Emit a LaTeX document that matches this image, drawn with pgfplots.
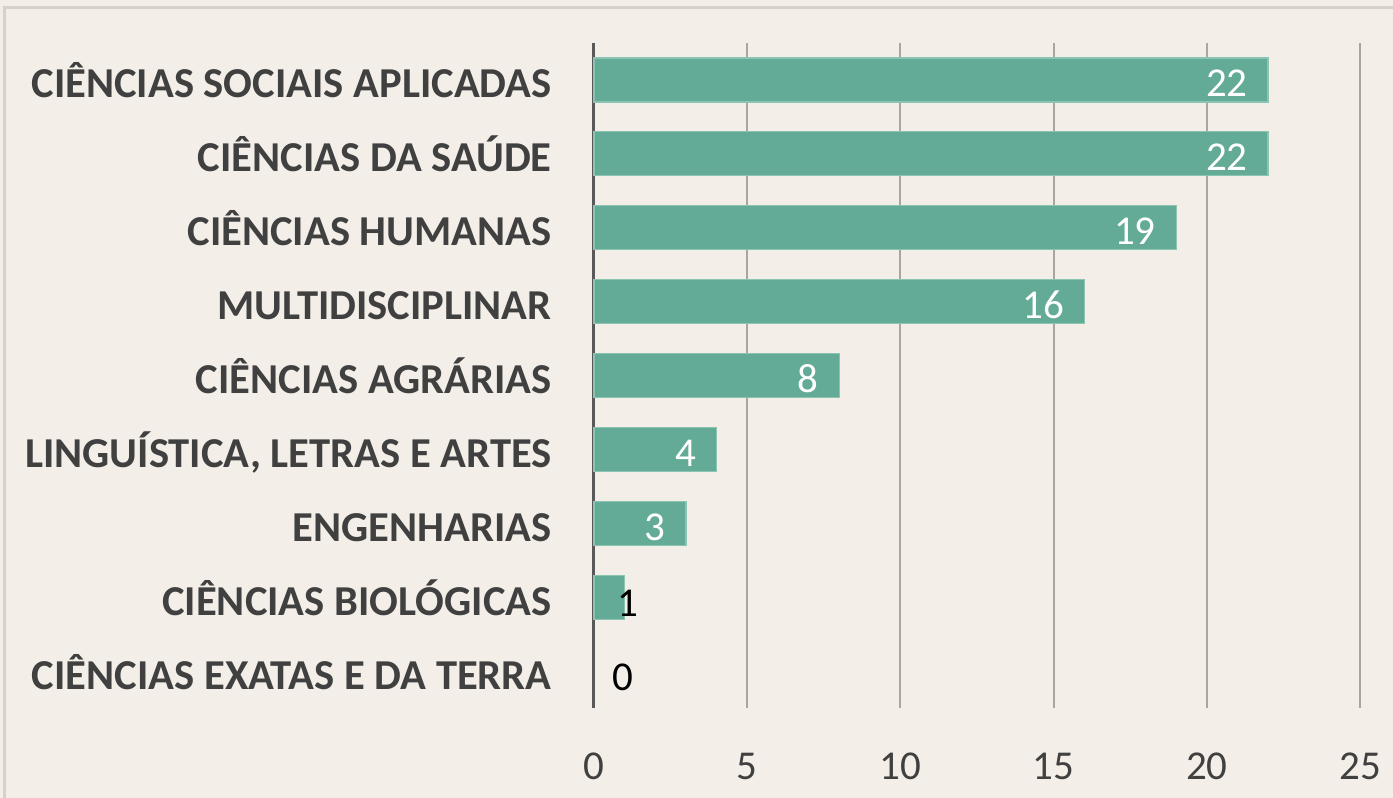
\documentclass[border=0pt]{standalone}
\usepackage{pgfplots}
\pgfplotsset{compat=1.18}
\usepackage{fontspec}
\setmainfont{Carlito}

\definecolor{bg}{HTML}{F3EFE8}
\definecolor{framec}{HTML}{D6D2CB}
\definecolor{barc}{HTML}{63AB97}
\definecolor{baredge}{HTML}{8CC4B2}
\definecolor{gridc}{HTML}{A9A59F}
\definecolor{axisc}{HTML}{595959}
\definecolor{txt}{HTML}{404040}

\begin{document}
\begin{tikzpicture}
% 1 px of the reference = 0.5pt; axis box lower-left at (0,0)
\useasboundingbox (-297pt,-45pt) rectangle (399.5pt,354pt);
\fill[bg] (-297pt,-45pt) rectangle (399.5pt,354pt);
\draw[framec, line width=1.5pt] (-294.5pt,-80pt) -- (-294.5pt,350pt) -- (430pt,350pt);

\begin{axis}[
    at={(0,0)}, anchor=south west,
    scale only axis,
    width=383pt, height=332.5pt,
    xmin=0, xmax=25,
    ymin=-0.5, ymax=8.5,
    y dir=reverse,
    xtick={0,5,...,25},
    ytick={0,...,8},
    yticklabels={CIÊNCIAS SOCIAIS APLICADAS, CIÊNCIAS DA SAÚDE, CIÊNCIAS HUMANAS,
                 MULTIDISCIPLINAR, CIÊNCIAS AGRÁRIAS, {LINGUÍSTICA, LETRAS E ARTES},
                 ENGENHARIAS, CIÊNCIAS BIOLÓGICAS, CIÊNCIAS EXATAS E DA TERRA},
    /pgf/number format/assume math mode=true,
    axis x line*=bottom,
    axis y line*=left,
    x axis line style={draw=none},
    y axis line style={line width=1.5pt, draw=axisc, -},
    major tick length=0pt,
    xmajorgrids,
    grid style={gridc, line width=1pt},
    every tick label/.append style={font=\fontsize{20.5}{24}\selectfont, text=txt},
    xticklabel style={anchor=base, inner sep=0pt, yshift=-35.5pt},
    yticklabel style={anchor=base east, inner sep=0pt, xshift=-21pt, yshift=-9pt,
                      font=\fontsize{21.3}{25}\selectfont\bfseries},
    clip=false,
]
\addplot[xbar, bar width=22pt, fill=barc, draw=baredge, line width=0.6pt] coordinates {
    (22,0) (22,1) (19,2) (16,3) (8,4) (4,5) (3,6) (1,7)
};
% white labels inside the bar ends
\addplot[draw=none, mark=none, nodes near coords, point meta=explicit symbolic,
    nodes near coords style={anchor=base east, inner sep=0pt, xshift=-10pt, yshift=-8.5pt,
        text=white, font=\fontsize{20.5}{24}\selectfont}] coordinates {
    (22,0)[22] (22,1)[22] (19,2)[19] (16,3)[16] (8,4)[8] (4,5)[4] (3,6)[3]
};
% black labels for the short bars
\addplot[draw=none, mark=none, nodes near coords, point meta=explicit symbolic,
    nodes near coords style={anchor=base, inner sep=0pt, yshift=-9.5pt,
        text=black, font=\fontsize{20.5}{24}\selectfont}] coordinates {
    (1.11,7)[1] (0.95,8)[0]
};
\end{axis}
\end{tikzpicture}
\end{document}
